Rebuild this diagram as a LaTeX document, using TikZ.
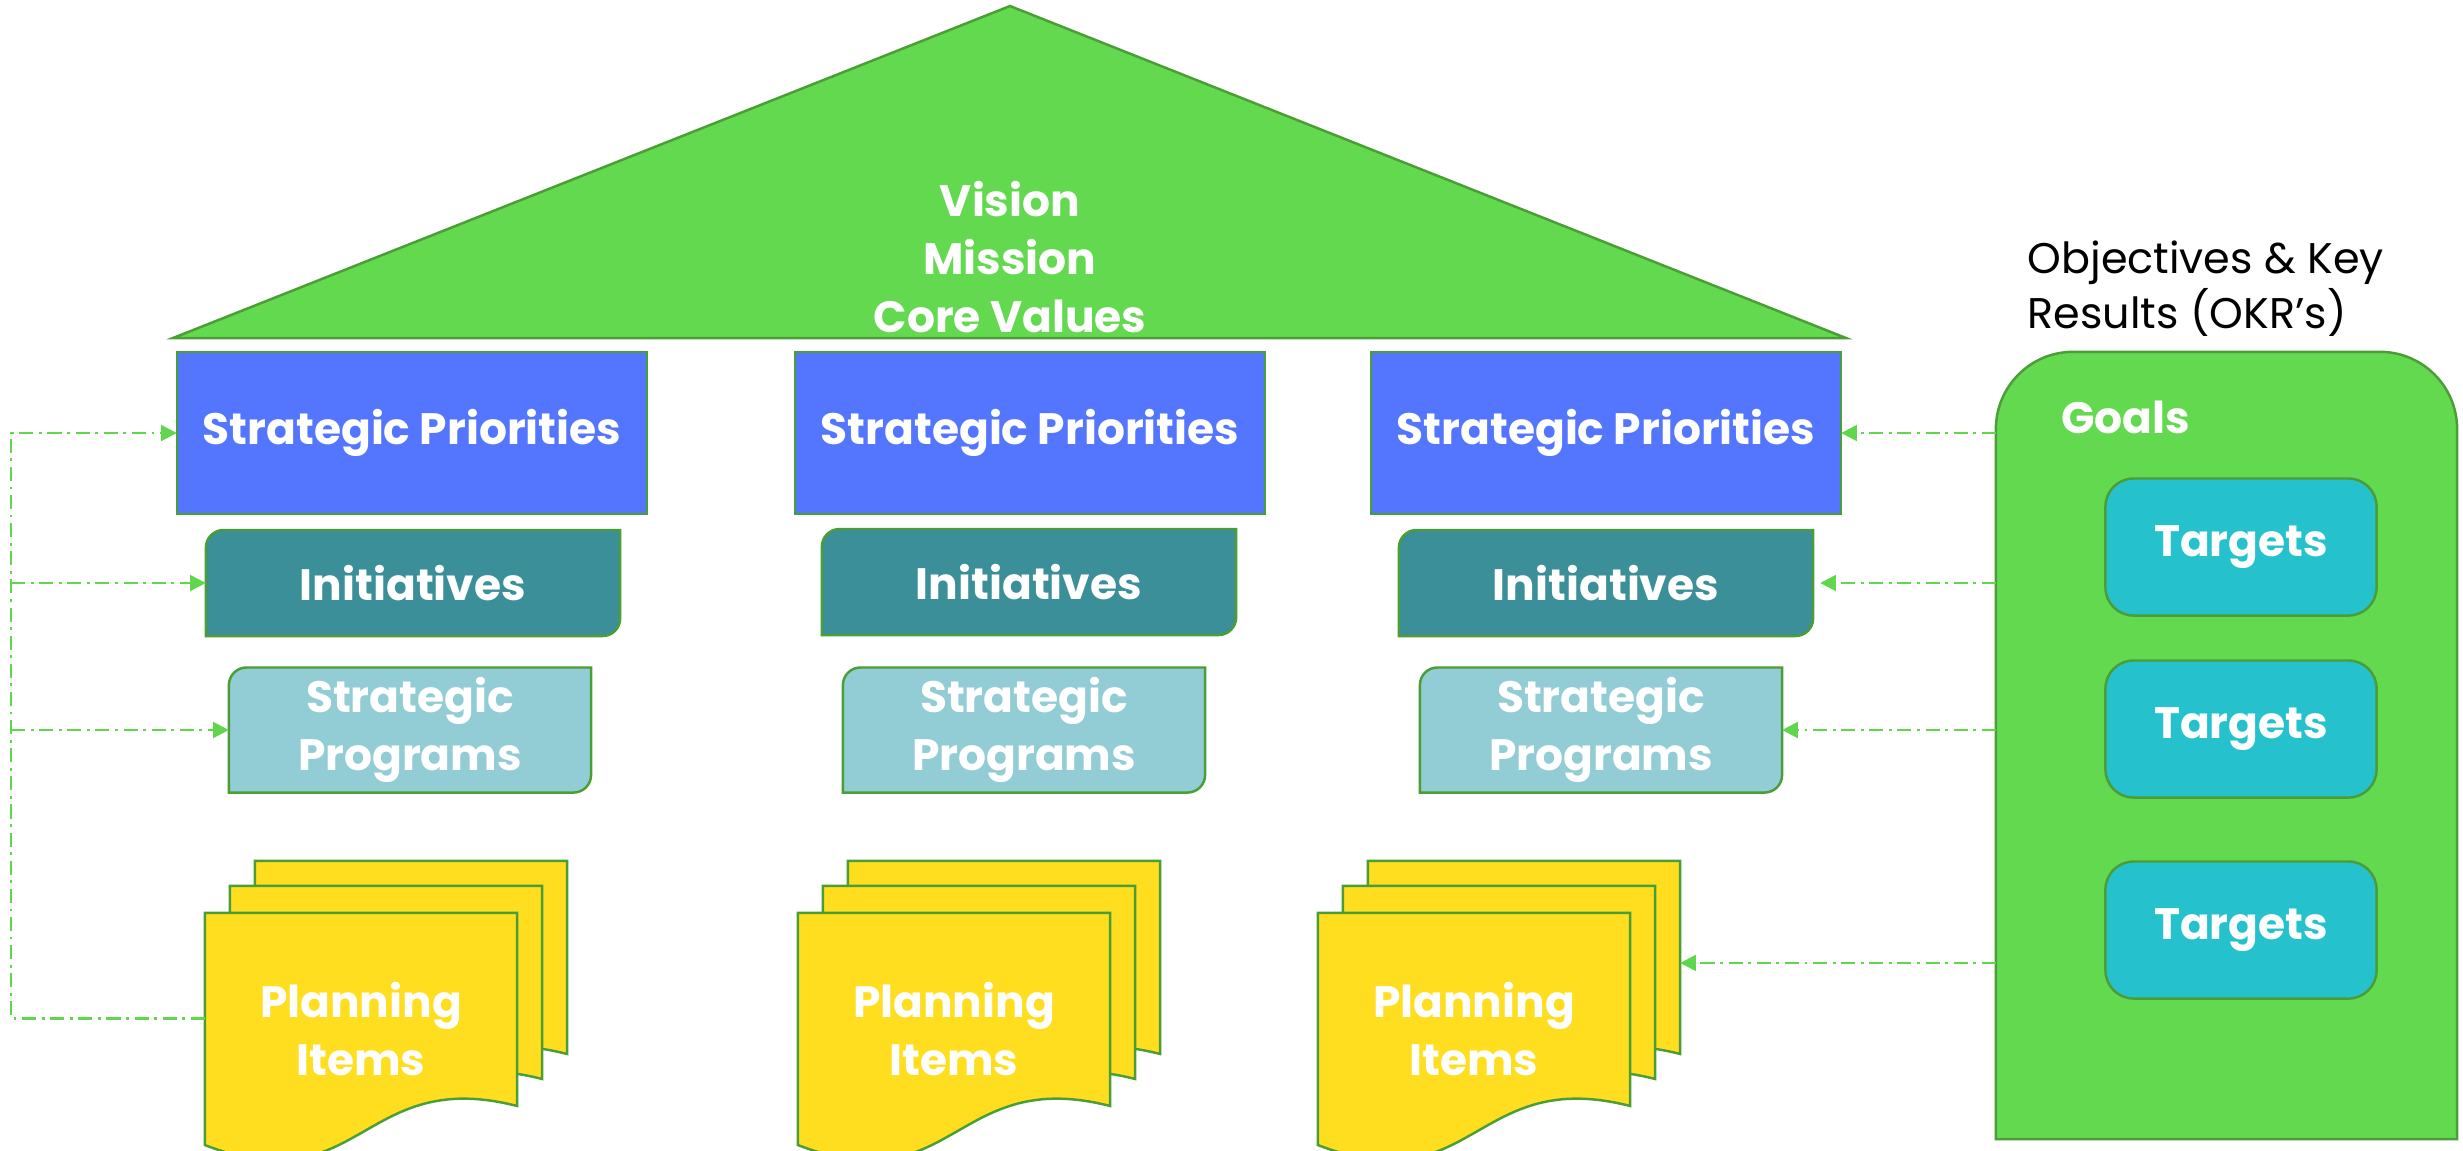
\documentclass[tikz,border=0pt]{standalone}
\usepackage{fontspec}
\setmainfont{Poppins}
\usetikzlibrary{arrows.meta,calc,backgrounds}

\definecolor{roofgreen}{HTML}{63D94F}
\definecolor{edgegreen}{HTML}{4A9E35}
\definecolor{spblue}{HTML}{5476FE}
\definecolor{initteal}{HTML}{3A8F98}
\definecolor{progblue}{HTML}{92CDD5}
\definecolor{planyellow}{HTML}{FEDE1F}
\definecolor{targetcyan}{HTML}{25C2CE}
\definecolor{linkgreen}{HTML}{5FD64B}

\tikzset{
    boxtext/.style={font=\bfseries\fontsize{12.5}{16.4}\selectfont, text=white, align=center, inner sep=0pt, outer sep=0pt},
    prio/.style={boxtext, draw=edgegreen, line width=0.7pt, fill=spblue, minimum width=4.7cm, minimum height=1.62cm},
    initv/.style={boxtext, minimum width=4.14cm, minimum height=1.06cm},
    progr/.style={boxtext, minimum width=3.62cm, minimum height=1.25cm},
    sheet/.style={boxtext, minimum width=3.12cm, minimum height=2.32cm},
    target/.style={boxtext, draw=edgegreen, line width=0.7pt, fill=targetcyan, rounded corners=8pt, minimum width=2.71cm, minimum height=1.37cm},
    link/.style={draw=linkgreen, line width=0.7pt, dash pattern=on 4pt off 1.6pt on 0.8pt off 1.6pt, -{Triangle[length=4.5pt,width=4.5pt]}},
}

% box with rounded top left and bottom right corners
\newcommand{\cutcorners}[2]{%
  \begin{scope}[on background layer]
    \path[fill=#2, draw=edgegreen, line width=0.7pt]
      let \p1=(#1.north west), \p2=(#1.south east) in
      (\x1,\y1-5pt) arc[start angle=180, end angle=90, radius=5pt] -- (\x2,\y1)
      -- (\x2,\y2+5pt) arc[start angle=0, end angle=-90, radius=5pt] -- (\x1,\y2) -- cycle;
  \end{scope}}

% one sheet with a wavy bottom
\newcommand{\sheetpath}[1]{%
  \begin{scope}[on background layer]
    \path[fill=planyellow, draw=edgegreen, line width=0.7pt]
      let \p1=(#1.north west) in
      (\x1,\y1) -- (\x1+88.8pt,\y1) -- (\x1+88.8pt,\y1-54.9pt)
      .. controls (\x1+44.4pt,\y1-43.5pt) and (\x1+44.4pt,\y1-83.1pt) .. (\x1,\y1-66pt) -- cycle;
  \end{scope}}

\begin{document}
\begin{tikzpicture}[x=0.01cm, y=-0.01cm]

    \useasboundingbox (0,0) rectangle (2463,1150);

    % roof
    \draw[fill=roofgreen, draw=edgegreen, line width=0.7pt] (173,338) -- (1010,6) -- (1846,338) -- cycle;
    \node(roof)[boxtext] at (1010,257) {Vision\\Mission\\Core Values};

    % columns
    \node(sp1)[prio] at (412,433) {Strategic Priorities};
    \node(sp2)[prio] at (1030,433) {Strategic Priorities};
    \node(sp3)[prio] at (1606,433) {Strategic Priorities};

    \node(in1)[initv] at (413,583) {Initiatives};
    \node(in2)[initv] at (1029,582) {Initiatives};
    \node(in3)[initv] at (1606,583) {Initiatives};
    \cutcorners{in1}{initteal}
    \cutcorners{in2}{initteal}
    \cutcorners{in3}{initteal}

    \node(pr1)[progr] at (410,730) {Strategic\\Programs};
    \node(pr2)[progr] at (1024,730) {Strategic\\Programs};
    \node(pr3)[progr] at (1601,730) {Strategic\\Programs};
    \cutcorners{pr1}{progblue}
    \cutcorners{pr2}{progblue}
    \cutcorners{pr3}{progblue}

    \node(pl1c)[sheet] at (411,977) {};
    \node(pl1b)[sheet] at (386,1002) {};
    \node(pl1)[sheet] at (361,1029) {Planning\\Items};
    \node(pl2c)[sheet] at (1004,977) {};
    \node(pl2b)[sheet] at (979,1002) {};
    \node(pl2)[sheet] at (954,1029) {Planning\\Items};
    \node(pl3c)[sheet] at (1524,977) {};
    \node(pl3b)[sheet] at (1499,1002) {};
    \node(pl3)[sheet] at (1474,1029) {Planning\\Items};
    \foreach \s in {pl1c, pl1b, pl1, pl2c, pl2b, pl2, pl3c, pl3b, pl3}
        \sheetpath{\s};

    % OKR side
    \node(okr)[anchor=north west, align=left, inner sep=0pt, font=\fontsize{12.2}{14.2}\selectfont] at (2027,240) {Objectives \& Key\\Results (OKR’s)};
    \node(goals)[minimum width=4.61cm, minimum height=7.87cm, inner sep=0pt, outer sep=0pt] at (2226.5,745.5) {};
    \begin{scope}[on background layer]
        \path[fill=roofgreen, draw=edgegreen, line width=0.7pt]
          let \p1=(goals.north west), \p2=(goals.south east) in
          (\x1,\y2) -- (\x1,\y1-22pt) arc[start angle=180, end angle=90, radius=22pt]
          -- (\x2-22pt,\y1) arc[start angle=90, end angle=0, radius=22pt] -- (\x2,\y2) -- cycle;
    \end{scope}
    \node(goalsname)[boxtext, anchor=base west] at (2061,433) {Goals};
    \node(t1)[target] at (2241,547) {Targets};
    \node(t2)[target] at (2241,729) {Targets};
    \node(t3)[target] at (2241,930) {Targets};

    % links
    \draw[link] (goals.west |- sp3.east) -- (sp3.east);
    \draw[link, shorten >=2pt] (goals.west |- in3.east) -- (in3.east);
    \draw[link] (goals.west |- pr3.east) -- (pr3.east);
    \draw[link] ([yshift=4pt]goals.west |- pl3c.east) -- ([yshift=4pt]pl3c.east);

    \coordinate(rail) at (11,433);
    \draw[link] ([yshift=3pt]pl1.west) -- ([yshift=3pt]pl1.west -| rail) -- (rail) -- (sp1.west);
    \draw[link] (rail |- in1.west) -- (in1.west);
    \draw[link] (rail |- pr1.west) -- (pr1.west);

\end{tikzpicture}
\end{document}
